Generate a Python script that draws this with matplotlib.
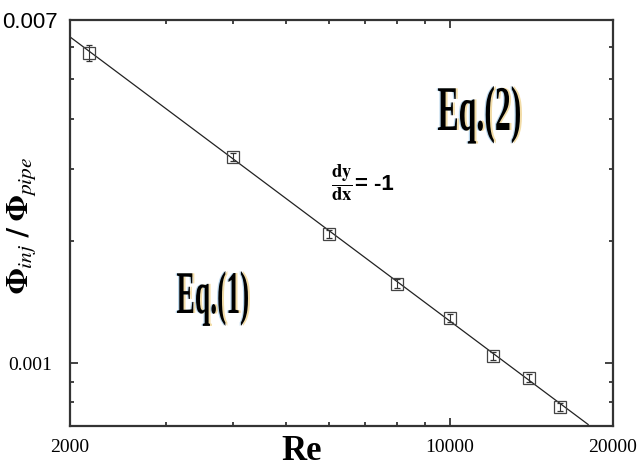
import numpy as np
import matplotlib
matplotlib.use("Agg")
import matplotlib.pyplot as plt
import matplotlib.ticker as mticker
from matplotlib.textpath import TextPath
from matplotlib.patches import PathPatch
from matplotlib.font_manager import FontProperties
from matplotlib.transforms import Affine2D, ScaledTranslation

# ── data ─────────────────────────────────────────────────────────────────────
re_vals  = [2170, 4000, 6000, 8000, 10000, 12000, 14000, 16000]
phi_vals = [0.0058, 0.00322, 0.00208, 0.00157, 0.00129, 0.00104, 0.00092, 0.00078]
phi_err  = [0.00026, 0.00008, 0.00005, 0.00004, 0.00003, 0.000025, 0.00002, 0.000018]

# slope -1 fit line (log-log)
fit_re  = [2000, 18000]
fit_phi = [0.00636, 0.000706]

W, H = 641, 471
fig = plt.figure(figsize=(W / 100, H / 100), dpi=100)
ax = fig.add_axes([70 / W, 1 - 426 / H, (613 - 70) / W, (426 - 20) / H])

ax.plot(fit_re, fit_phi, color="#222222", lw=0.9)
ax.errorbar(re_vals, phi_vals, yerr=phi_err, fmt="s", ms=9, mfc="none",
            mec="#444444", mew=0.9, ecolor="#333333", elinewidth=0.8, capsize=2.5)

ax.set_xscale("log")
ax.set_yscale("log")
ax.set_xlim(2000, 20000)
ax.set_ylim(0.0007, 0.007)

# ticks on all four sides, pointing inward
ax.xaxis.set_major_locator(mticker.FixedLocator([2000, 10000, 20000]))
ax.xaxis.set_minor_locator(mticker.FixedLocator([3000, 4000, 5000, 6000, 7000, 8000, 9000]))
ax.yaxis.set_major_locator(mticker.FixedLocator([0.001, 0.007]))
ax.yaxis.set_minor_locator(mticker.FixedLocator([0.0008, 0.0009, 0.002, 0.003, 0.004, 0.005, 0.006]))
ax.xaxis.set_major_formatter(mticker.FixedFormatter(["2000", "10000", "20000"]))
ax.yaxis.set_major_formatter(mticker.FixedFormatter(["0.001", "0.007"]))
ax.xaxis.set_minor_formatter(mticker.NullFormatter())
ax.yaxis.set_minor_formatter(mticker.NullFormatter())
ax.tick_params(which="both", direction="in", top=True, right=True, color="#222222")
ax.tick_params(which="major", length=6, width=1.2)
ax.tick_params(which="minor", length=3, width=1.2)
ax.tick_params(axis="x", pad=9)
ax.tick_params(axis="y", pad=13)

for lab in ax.get_xticklabels():
    lab.set_fontfamily("Liberation Serif")
    lab.set_fontsize(14)
ylabs = ax.get_yticklabels()
ylabs[0].set_fontfamily("Liberation Serif")
ylabs[0].set_fontsize(14)
ylabs[1].set_fontfamily("Liberation Sans")
ylabs[1].set_fontsize(16)
# nudge the top label toward the axis
ylabs[1].set_transform(ylabs[1].get_transform() +
                       ScaledTranslation(6 / 100, 0, fig.dpi_scale_trans))

for sp in ax.spines.values():
    sp.set_linewidth(1.6)
    sp.set_color("#333333")

plt.rcParams["mathtext.fontset"] = "stix"


def px(x, y):
    return x / W, 1 - y / H


# axis labels
fig.text(*px(302, 452), "Re", family="Liberation Serif", weight="bold",
         fontsize=25, ha="center", va="center")
fig.text(*px(21, 225), r"$\mathbf{\Phi}_{\mathit{inj}}\ \mathbf{/}\ \mathbf{\Phi}_{\mathit{pipe}}$",
         fontsize=22, rotation=90, ha="center", va="center")

# slope annotation
fig.text(*px(342, 183), r"$\mathbf{\frac{dy}{dx}}$", fontsize=19, ha="center", va="center")
fig.text(*px(355, 184), "= -1", family="Liberation Sans", weight="bold",
         fontsize=16, ha="left", va="center")


def tall_text(s, x0, x1, cap_top, baseline):
    # condensed serif lettering scaled to fill a pixel box
    fp = FontProperties(family="Liberation Serif", weight="bold")
    tp = TextPath((0, 0), s, size=1, prop=fp)
    ext = tp.get_extents()
    sx = (x1 - x0) / ext.width
    sy = (baseline - cap_top) / 0.66
    for dx, col in [(2.0, "#e8c060"), (-1.2, "#7ab0d8"), (0, "black")]:
        tr = Affine2D().translate(-ext.x0, 0).scale(sx, sy).translate(x0 + dx, H - baseline)
        fig.add_artist(PathPatch(tp, transform=tr, facecolor=col, edgecolor="none",
                                 alpha=0.55 if col != "black" else 1.0))


tall_text("Eq.(2)", 438, 520, 88, 130)
tall_text("Eq.(1)", 177, 248, 273, 313)

plt.savefig("out.png", dpi=100)
